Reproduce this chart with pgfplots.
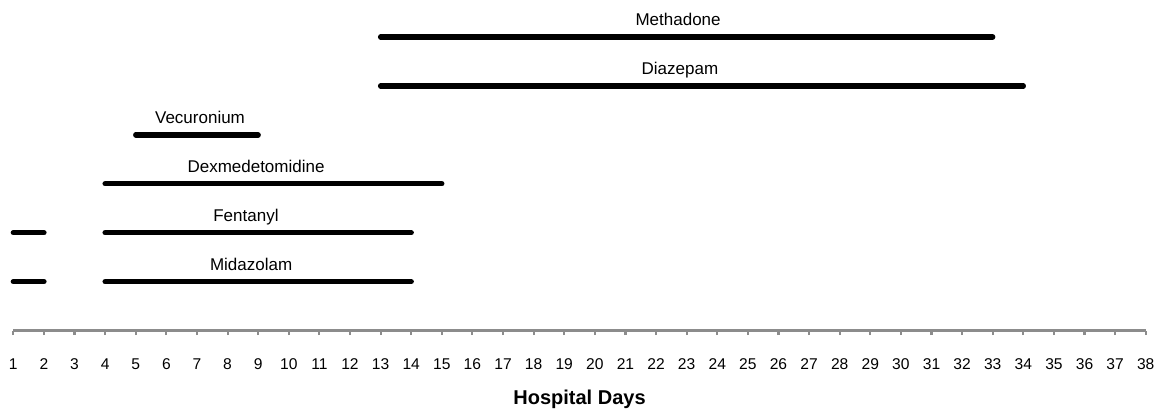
\documentclass[border=0pt]{standalone}
\usepackage{pgfplots}
\pgfplotsset{compat=1.18}
\usepackage{fontspec}
\setmainfont{Liberation Sans}
\tikzset{
  lbl/.style={anchor=base, yshift=8.5pt, font=\fontsize{12.75}{15}\selectfont},
  bar/.style={black, solid, line width=4pt, line cap=round, mark=none},
}
\begin{document}
\begin{tikzpicture}
\begin{axis}[
  at={(0,0)}, anchor=south west,
  scale only axis, width=849.3pt, height=248pt,
  xmin=1, xmax=38, ymin=0, ymax=6.756,
  axis x line=bottom, axis y line=none,
  x axis line style={-, draw=gray!90, line width=2pt},
  xtick={1,...,38}, ytick=\empty,
  tick align=outside, major tick length=3.4pt,
  x tick style={draw=gray!90, line width=1.6pt},
  xticklabel style={anchor=base, yshift=-25.7pt, font=\fontsize{11.7}{14}\selectfont},
  /pgf/number format/assume math mode=true,
  xlabel={Hospital Days},
  xlabel style={at={(axis description cs:0.5,0)}, anchor=base, yshift=-55.7pt, font=\fontsize{15}{18}\selectfont\bfseries},
  clip=false,
]
% Methadone
\addplot[bar] coordinates {(13,6) (33,6)};
% Diazepam
\addplot[bar] coordinates {(13,5) (34,5)};
% Vecuronium
\addplot[bar] coordinates {(5,4) (9,4)};
% Dexmedetomidine
\addplot[bar] coordinates {(4,3) (15,3)};
% Fentanyl
\addplot[bar] coordinates {(1,2) (2,2)};
\addplot[bar] coordinates {(4,2) (14,2)};
% Midazolam
\addplot[bar] coordinates {(1,1) (2,1)};
\addplot[bar] coordinates {(4,1) (14,1)};
\node[lbl] at (axis cs:22.72,6) {Methadone};
\node[lbl] at (axis cs:22.78,5) {Diazepam};
\node[lbl] at (axis cs:7.1,4) {Vecuronium};
\node[lbl] at (axis cs:8.93,3) {Dexmedetomidine};
\node[lbl] at (axis cs:8.6,2) {Fentanyl};
\node[lbl] at (axis cs:8.77,1) {Midazolam};
\end{axis}
\pgfresetboundingbox
\path (-10pt,-58.7pt) rectangle (857pt,248pt);
\end{tikzpicture}
\end{document}
